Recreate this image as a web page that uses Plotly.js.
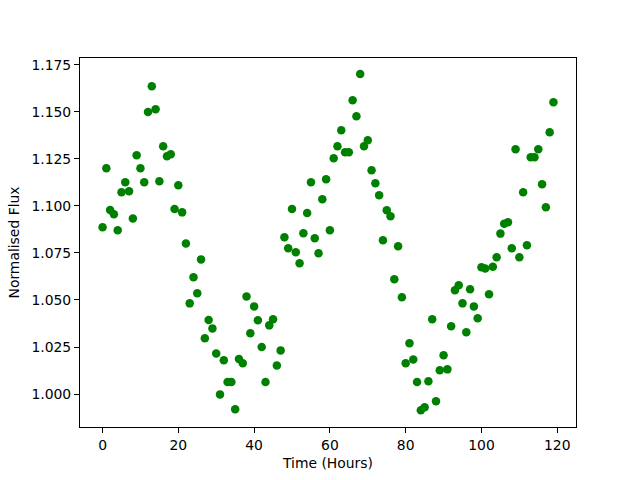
<!DOCTYPE html>
<html>
<head>
<meta charset="utf-8">
<script src="https://cdn.plot.ly/plotly-3.0.1.min.js"></script>
<style>html,body{margin:0;padding:0;background:#fff;}#chart{width:640px;height:480px;}</style>
</head>
<body>
<div id="chart"></div>
<script>
// Time (hours) 0..119
const timeHours = [
  0,1,2,3,4,5,6,7,8,9,10,11,12,13,14,15,16,17,18,19,
  20,21,22,23,24,25,26,27,28,29,30,31,32,33,34,35,36,37,38,39,
  40,41,42,43,44,45,46,47,48,49,50,51,52,53,54,55,56,57,58,59,
  60,61,62,63,64,65,66,67,68,69,70,71,72,73,74,75,76,77,78,79,
  80,81,82,83,84,85,86,87,88,89,90,91,92,93,94,95,96,97,98,99,
  100,101,102,103,104,105,106,107,108,109,110,111,112,113,114,115,116,117,118,119
];
const normalisedFlux = [
  1.0887,1.1201,1.0979,1.0956,1.0871,1.1073,1.1126,1.1078,1.0934,1.1270,
  1.1201,1.1126,1.1500,1.1637,1.1514,1.1131,1.1318,1.1264,1.1275,1.0984,
  1.1110,1.0966,1.0801,1.0482,1.0621,1.0536,1.0716,1.0296,1.0394,1.0349,
  1.0216,0.9998,1.0179,1.0064,1.0064,0.9919,1.0186,1.0163,1.0519,1.0323,
  1.0466,1.0392,1.0250,1.0064,1.0365,1.0397,1.0152,1.0232,1.0834,1.0775,
  1.0984,1.0754,1.0695,1.0855,1.0963,1.1126,1.0828,1.0748,1.1036,1.1142,
  1.0871,1.1254,1.1318,1.1403,1.1286,1.1286,1.1562,1.1477,1.1702,1.1318,
  1.1349,1.1190,1.1121,1.1057,1.0818,1.0977,1.0945,1.0610,1.0786,1.0514,
  1.0163,1.0270,1.0184,1.0064,0.9913,0.9929,1.0068,1.0397,0.9961,1.0126,
  1.0206,1.0131,1.0360,1.0552,1.0578,1.0482,1.0328,1.0557,1.0466,1.0403,
  1.0674,1.0667,1.0530,1.0677,1.0727,1.0853,1.0906,1.0913,1.0775,1.1302,
  1.0727,1.1073,1.0791,1.1259,1.1259,1.1302,1.1115,1.0993,1.1392,1.1552
];

const font = {family: 'DejaVu Sans, sans-serif', size: 13.9, color: '#000'};
const trace = {
  x: timeHours,
  y: normalisedFlux,
  type: 'scatter',
  mode: 'markers',
  marker: {color: '#008000', size: 8.5, line: {width: 0}},
  hoverinfo: 'skip'
};
const layout = {
  width: 640, height: 480,
  margin: {l: 80, r: 64, t: 58, b: 53, pad: 0},
  paper_bgcolor: '#fff', plot_bgcolor: '#fff',
  font: font,
  showlegend: false,
  xaxis: {
    range: [-5.95, 124.95],
    tick0: 0, dtick: 20,
    ticks: 'outside', ticklen: 5, tickwidth: 1, tickcolor: '#000',
    showline: true, mirror: true, linecolor: '#000', linewidth: 1,
    showgrid: false, zeroline: false,
    tickfont: font,
    title: {text: 'Time (Hours)', font: font, standoff: 6}
  },
  yaxis: {
    range: [0.98245, 1.1787],
    tick0: 1.0, dtick: 0.025, tickformat: '.3f',
    ticks: 'outside', ticklen: 5, tickwidth: 1, tickcolor: '#000',
    showline: true, mirror: true, linecolor: '#000', linewidth: 1,
    showgrid: false, zeroline: false,
    tickfont: font,
    title: {text: 'Normalised Flux', font: font, standoff: 8}
  }
};
Plotly.newPlot('chart', [trace], layout, {staticPlot: true, displayModeBar: false});
</script>
</body>
</html>
